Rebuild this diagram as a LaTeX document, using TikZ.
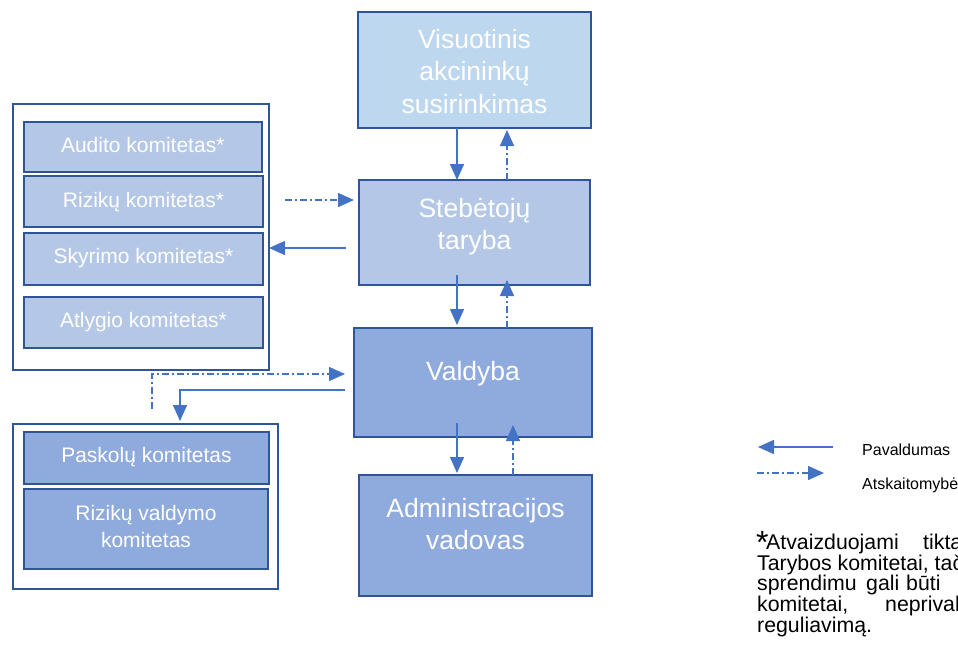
\documentclass[tikz,border=0pt]{standalone}
\usepackage{fontspec}
\setmainfont{Liberation Sans}
\usetikzlibrary{arrows.meta}
\definecolor{bd}{HTML}{2F5597}
\definecolor{ar}{HTML}{4472C4}
\definecolor{fa}{HTML}{BDD7EE}
\definecolor{fb}{HTML}{B4C7E7}
\definecolor{fc}{HTML}{8FAADC}
\newcommand\mylines[1]{\begin{tabular}[t]{@{}c@{}}#1\end{tabular}}
\begin{document}
\begin{tikzpicture}[x=1pt,y=-1pt,
  box/.style={draw=bd, line width=2pt, inner sep=0pt, outer sep=0pt},
  outerbox/.style={draw=bd, line width=2pt, fill=white, inner sep=0pt, outer sep=0pt},
  bigtxt/.style={text=white, inner sep=0pt, anchor=base, font=\fontsize{26.5}{32.5}\selectfont},
  smalltxt/.style={text=white, inner sep=0pt, anchor=base, font=\fontsize{21}{27}\selectfont},
  legtxt/.style={text=black, inner sep=0pt, anchor=base west, font=\fontsize{16}{19}\selectfont},
  notetxt/.style={text=black, inner sep=0pt, anchor=base west, font=\fontsize{21.3}{20}\selectfont},
  subord/.style={draw=ar, line width=1.5pt, -{Triangle[length=16pt,width=14pt]}},
  report/.style={draw=ar, line width=1.5pt, dash pattern=on 7pt off 3pt on 2pt off 3pt, -{Triangle[length=16pt,width=14pt]}},
]
\useasboundingbox (0,0) rectangle (958,654);
\clip (0,0) rectangle (958,654);

% main column
\node[box, fill=fa, minimum width=233pt, minimum height=116pt] (va) at (474.5,70) {};
\node[bigtxt] (vat) at (474.5,48) {\mylines{Visuotinis\\akcininkų\\susirinkimas}};
\node[box, fill=fb, minimum width=231pt, minimum height=105pt] (st) at (474.5,232.5) {};
\node[bigtxt] (stt) at (474.5,217) {\mylines{Stebėtojų\\taryba}};
\node[box, fill=fc, minimum width=238pt, minimum height=109pt] (vd) at (473,382.5) {};
\node[bigtxt] (vdt) at (473,380) {Valdyba};
\node[box, fill=fc, minimum width=233pt, minimum height=121pt] (ad) at (475.5,535.5) {};
\node[bigtxt] (adt) at (475.5,517) {\mylines{Administracijos\\vadovas}};

% upper committee group
\node[outerbox, minimum width=256.5pt, minimum height=265.5pt] (o1) at (140.75,236.75) {};
\node[box, fill=fb, minimum width=237.5pt, minimum height=50pt] (au) at (142.75,147) {};
\node[smalltxt] (aut) at (142.75,152) {Audito komitetas*};
\node[box, fill=fb, minimum width=239pt, minimum height=51pt] (ri) at (143.5,201.5) {};
\node[smalltxt] (rit) at (143.5,207) {Rizikų komitetas*};
\node[box, fill=fb, minimum width=239pt, minimum height=51.5pt] (sk) at (143.5,258.75) {};
\node[smalltxt] (skt) at (143.5,263.5) {Skyrimo komitetas*};
\node[box, fill=fb, minimum width=239pt, minimum height=51pt] (at) at (143.5,322.5) {};
\node[smalltxt] (att) at (143.5,327.5) {Atlygio komitetas*};

% lower committee group
\node[outerbox, minimum width=265.5pt, minimum height=165pt] (o2) at (145.25,506.5) {};
\node[box, fill=fc, minimum width=245pt, minimum height=51.5pt] (pa) at (146.5,457.75) {};
\node[smalltxt] (pat) at (146.5,462.5) {Paskolų komitetas};
\node[box, fill=fc, minimum width=244pt, minimum height=80pt] (rv) at (146,529) {};
\node[smalltxt] (rvt) at (146,520) {\mylines{Rizikų valdymo\\komitetas}};

% vertical connectors
\draw[subord] (457,0 |- va.south) -- (457,0 |- st.north);
\draw[report] (507,0 |- st.north) -- ([yshift=-2pt]507,0 |- va.south);
\draw[subord] ([yshift=10pt]457,0 |- st.south) -- ([yshift=3pt]457,0 |- vd.north);
\draw[report] (507,0 |- vd.north) -- ([yshift=5pt]507,0 |- st.south);
\draw[subord] ([yshift=14pt]457,0 |- vd.south) -- ([yshift=2pt]457,0 |- ad.north);
\draw[report] (513,0 |- ad.north) -- ([yshift=12pt]513,0 |- vd.south);

% side connectors
\draw[report] ([xshift=22pt]ri.east |- 0,200) -- ([xshift=-5pt]st.west |- 0,200);
\draw[subord] ([xshift=-13pt]st.west |- 0,248) -- (o1.east |- 0,248);
\draw[report] ([yshift=15pt]o2.north -| 152,0) |- ([xshift=-9pt]vd.west |- 0,374);
\draw[subord] ([xshift=-9pt]vd.west |- 0,390) -| ([yshift=3pt]o2.north -| 180,0);

% legend
\coordinate (l1a) at (833,447);
\coordinate (l1b) at (758,447);
\coordinate (l2a) at (757,473);
\coordinate (l2b) at (824,473);
\draw[subord] (l1a) -- (l1b);
\draw[report] (l2a) -- (l2b);
\node[legtxt] (lg1) at (862,455) {Pavaldumas};
\node[legtxt] (lg2) at (862,489) {Atskaitomybė};

% footnote
\node[notetxt, font=\fontsize{32}{32}\selectfont] (fstar) at (756,553) {*};
\node[notetxt] (f1a) at (766,549.5) {Atvaizduojami};
\node[notetxt] (f1b) at (923,549.5) {tiktai};
\node[notetxt] (f2a) at (757,570) {Tarybos komitetai, tačiau};
\node[notetxt] (f3a) at (757,590.7) {sprendimu};
\node[notetxt] (f3b) at (866,590.7) {gali};
\node[notetxt] (f3c) at (906,590.7) {būti};
\node[notetxt] (f4a) at (757,611.3) {komitetai,};
\node[notetxt] (f4b) at (885,611.3) {neprivalomi};
\node[notetxt] (f5a) at (757,632) {reguliavimą.};
\end{tikzpicture}
\end{document}
